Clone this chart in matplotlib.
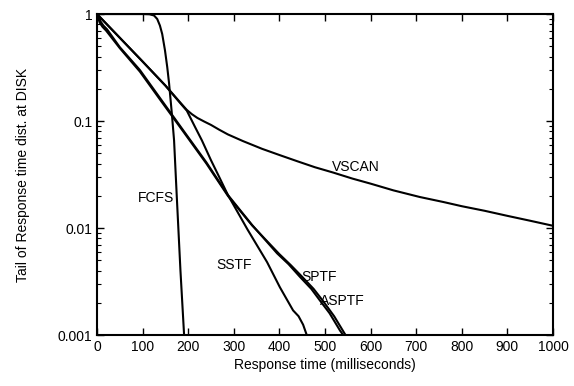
import numpy as np
import matplotlib.pyplot as plt
from matplotlib.ticker import FixedLocator, FuncFormatter, LogLocator, NullFormatter

plt.rcParams['font.family'] = ['Liberation Sans', 'DejaVu Sans']

# tail of the response time distribution at the disk, per scheduler
fcfs_x = [0, 100, 115, 125, 132, 138, 143, 149, 154, 158, 164, 169, 175, 183, 191]
fcfs_y = [1, 1, 0.995, 0.97, 0.9, 0.78, 0.65, 0.46, 0.32, 0.226, 0.119, 0.066, 0.0195, 0.004, 0.001]

vscan_x = [0, 50, 100, 150, 185, 197, 208, 220, 235, 250, 268, 287, 320, 362, 401, 440,
           478, 518, 560, 600, 650, 708, 760, 800, 850, 900, 950, 1000]
vscan_y = [1, 0.60, 0.36, 0.215, 0.145, 0.127, 0.116, 0.107, 0.099, 0.092, 0.083, 0.075,
           0.065, 0.055, 0.048, 0.042, 0.037, 0.033, 0.029, 0.026, 0.0225, 0.0195, 0.0175,
           0.016, 0.0145, 0.013, 0.0117, 0.0105]

sstf_x = [0, 50, 100, 150, 185, 197, 215, 230, 250, 268, 287, 330, 373, 401, 415, 430,
          442, 452, 460]
sstf_y = [1, 0.60, 0.36, 0.214, 0.143, 0.125, 0.088, 0.066, 0.043, 0.030, 0.0204, 0.0097,
          0.0048, 0.0028, 0.0022, 0.0017, 0.0015, 0.00125, 0.001]

sptf_x = [0, 4, 8, 14, 22, 50, 94, 140, 189, 240, 287, 340, 395, 420, 445, 470, 489, 510,
          533, 540]
sptf_y = [1, 0.92, 0.85, 0.78, 0.72, 0.49, 0.30, 0.16, 0.082, 0.041, 0.0204, 0.0107,
          0.0058, 0.0046, 0.0035, 0.0027, 0.0021, 0.0016, 0.0011, 0.001]

asptf_x = [0, 3, 6, 12, 20, 50, 94, 140, 189, 240, 287, 340, 400, 425, 450, 475, 495, 520,
           545]
asptf_y = [1, 0.91, 0.83, 0.76, 0.70, 0.48, 0.29, 0.155, 0.080, 0.040, 0.0200, 0.0106,
           0.0057, 0.0045, 0.0035, 0.0027, 0.0021, 0.0015, 0.001]

fig = plt.figure(figsize=(5.74, 3.86), dpi=100)
ax = fig.add_axes([0.169, 0.132, 0.7944, 0.8316])

for xs, ys in [(fcfs_x, fcfs_y), (vscan_x, vscan_y), (sstf_x, sstf_y),
               (sptf_x, sptf_y), (asptf_x, asptf_y)]:
    ax.plot(xs, ys, color='black', linewidth=1.5)

ax.text(129, 0.019, 'FCFS', ha='center', va='center', fontsize=10)
ax.text(568, 0.037, 'VSCAN', ha='center', va='center', fontsize=10)
ax.text(300, 0.0045, 'SSTF', ha='center', va='center', fontsize=10)
ax.text(487, 0.0035, 'SPTF', ha='center', va='center', fontsize=10)
ax.text(538, 0.0021, 'ASPTF', ha='center', va='center', fontsize=10)

ax.set_yscale('log')
ax.set_xlim(0, 1000)
ax.set_ylim(0.001, 1)
ax.xaxis.set_major_locator(FixedLocator(np.arange(0, 1001, 100)))
ax.yaxis.set_major_locator(FixedLocator([0.001, 0.01, 0.1, 1]))
ax.yaxis.set_minor_locator(LogLocator(base=10, subs=np.arange(2, 10)))
ax.yaxis.set_minor_formatter(NullFormatter())
ax.yaxis.set_major_formatter(FuncFormatter(lambda v, p: f'{v:g}'))

ax.tick_params(which='both', direction='in', top=True, right=True, labelsize=10)
ax.tick_params(which='major', length=5, width=1)
ax.tick_params(which='minor', length=3, width=0.8)
for s in ax.spines.values():
    s.set_linewidth(1.5)

ax.set_xlabel('Response time (milliseconds)', fontsize=10, labelpad=3)
ax.set_ylabel('Tail of Response time dist. at DISK', fontsize=10, labelpad=20)

fig.savefig('out.png', dpi=100)
